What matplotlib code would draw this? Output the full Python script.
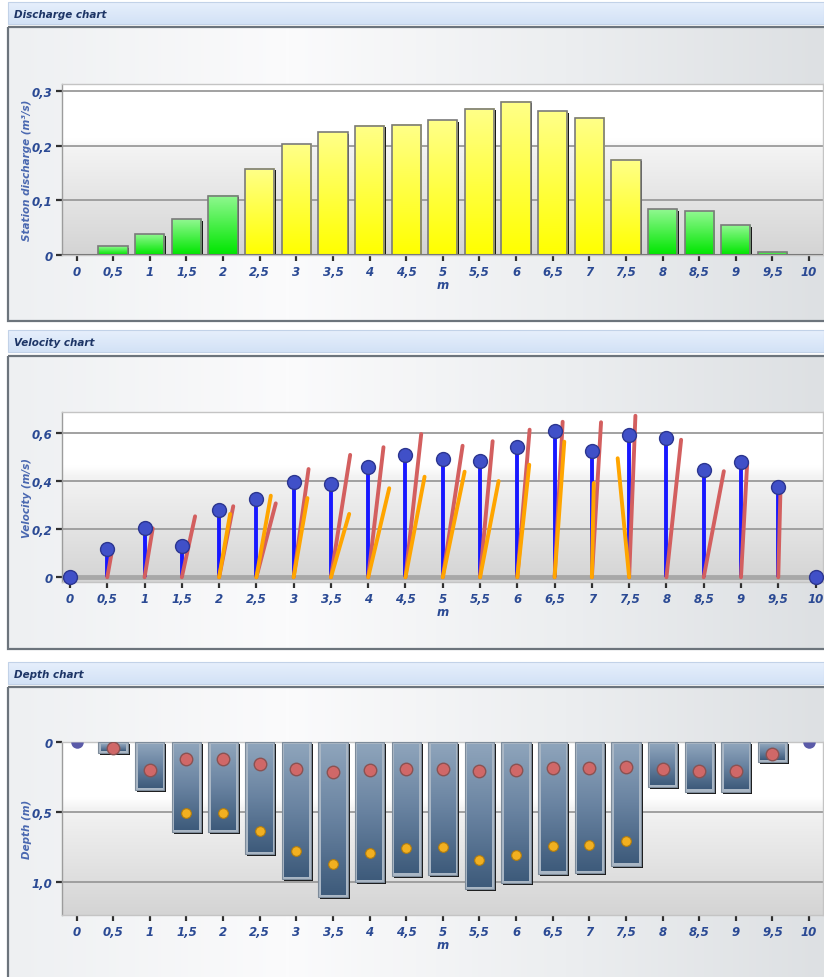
import numpy as np
import matplotlib
matplotlib.use('Agg')
import matplotlib.pyplot as plt
import matplotlib.transforms as mtransforms
from matplotlib.colors import LinearSegmentedColormap
from matplotlib.patches import Rectangle

nan = np.nan

# stations across the section (m)
stations = [0, 0.5, 1, 1.5, 2, 2.5, 3, 3.5, 4, 4.5, 5,
            5.5, 6, 6.5, 7, 7.5, 8, 8.5, 9, 9.5, 10]
station_labels = ['0', '0,5', '1', '1,5', '2', '2,5', '3', '3,5', '4', '4,5', '5',
                  '5,5', '6', '6,5', '7', '7,5', '8', '8,5', '9', '9,5', '10']

# discharge chart
discharge = [0, 0.016, 0.038, 0.065, 0.108, 0.158, 0.202, 0.224, 0.236, 0.238, 0.246,
             0.267, 0.280, 0.263, 0.251, 0.174, 0.084, 0.080, 0.054, 0.005, 0]
discharge_class = ['g', 'g', 'g', 'g', 'g', 'y', 'y', 'y', 'y', 'y', 'y',
                   'y', 'y', 'y', 'y', 'y', 'g', 'g', 'g', 'g', 'g']
discharge_ticks = [0, 0.1, 0.2, 0.3]
discharge_ticklabels = ['0', '0,1', '0,2', '0,3']

# velocity chart
mean_velocity = [0, 0.118, 0.204, 0.132, 0.280, 0.326, 0.396, 0.389, 0.458, 0.511, 0.493,
                 0.486, 0.544, 0.608, 0.528, 0.593, 0.579, 0.448, 0.482, 0.375, 0]
upper_end_x = [nan, 0.564, 1.11, 1.678, 2.19, 2.76, 3.20, 3.758, 4.205, 4.711, 5.266,
               5.669, 6.165, 6.608, 7.123, 7.584, 8.197, 8.77, 9.083, 9.53, nan]
upper_velocity = [nan, 0.111, 0.204, 0.254, 0.296, 0.308, 0.451, 0.510, 0.542, 0.597, 0.548,
                  0.567, 0.615, 0.648, 0.646, 0.673, 0.573, 0.442, 0.475, 0.371, nan]
lower_end_x = [nan, nan, nan, nan, 2.148, 2.694, 3.185, 3.745, 4.282, 4.756, 5.293,
               5.749, 6.16, 6.63, 7.025, 7.346, nan, nan, nan, nan, nan]
lower_velocity = [nan, nan, nan, nan, 0.264, 0.340, 0.330, 0.264, 0.371, 0.419, 0.440,
                  0.401, 0.469, 0.565, 0.393, 0.496, nan, nan, nan, nan, nan]
velocity_ticks = [0, 0.2, 0.4, 0.6]
velocity_ticklabels = ['0', '0,2', '0,4', '0,6']

# depth chart
depth = [0, 0.079, 0.343, 0.643, 0.643, 0.800, 0.980, 1.105, 1.000, 0.953, 0.948,
         1.048, 1.005, 0.938, 0.933, 0.881, 0.319, 0.353, 0.353, 0.143, 0]
upper_point = [nan, 0.043, 0.198, 0.119, 0.119, 0.155, 0.188, 0.214, 0.200, 0.188, 0.188,
               0.207, 0.200, 0.181, 0.181, 0.174, 0.190, 0.207, 0.207, 0.081, nan]
lower_point = [nan, nan, nan, 0.507, 0.507, 0.636, 0.776, 0.867, 0.788, 0.755, 0.748,
               0.843, 0.803, 0.741, 0.736, 0.705, nan, nan, nan, nan, nan]
depth_ticks = [0, 0.5, 1.0]
depth_ticklabels = ['0', '0,5', '1,0']

W, H = 824, 978
label_color = '#2b4a94'
ylabel_color = '#4a68b0'
tick_font = dict(fontsize=8.5, fontweight='bold', fontstyle='italic', color=label_color)

fig = plt.figure(figsize=(W / 100, H / 100), dpi=100)
fig.patch.set_facecolor('white')

# background layer in pixel coordinates
bg = fig.add_axes([0, 0, 1, 1])
bg.set_xlim(0, W)
bg.set_ylim(H, 0)
bg.axis('off')

panel_cmap = LinearSegmentedColormap.from_list('panel', ['#eef0f2', '#fbfbfc', '#eceef0', '#dcdfe2'])
bar_cmap = LinearSegmentedColormap.from_list('bar', ['#e6effc', '#d3e2f6'])

panels = [(3, 25, 28, 322, 'Discharge chart'),
          (331, 353, 357, 650, 'Velocity chart'),
          (663, 685, 688, 990, 'Depth chart')]
grad = np.linspace(0, 1, 256).reshape(1, -1)
for t0, t1, f0, f1, title in panels:
    bg.imshow(np.linspace(0, 1, 32).reshape(-1, 1), extent=(8, W, t1, t0),
              cmap=bar_cmap, aspect='auto', zorder=1)
    bg.add_patch(Rectangle((8, t0), W - 8, t1 - t0, fill=False, ec='#c2d2e8', lw=0.8, zorder=2))
    bg.text(14, (t0 + t1) / 2 + 0.5, title, fontsize=7.5, fontweight='bold', fontstyle='italic',
            color='#1d3566', va='center', ha='left', zorder=3)
    bg.imshow(grad, extent=(8, W + 20, f1, f0), cmap=panel_cmap, aspect='auto', zorder=1)
    bg.add_patch(Rectangle((8, f0), W + 20, f1 - f0, fill=False, ec='#6c747c', lw=1.6, zorder=2))
bg.set_xlim(0, W)
bg.set_ylim(H, 0)

plot_cmap = LinearSegmentedColormap.from_list('plot', [(0, '#d4d4d4'), (0.62, '#f3f3f3'),
                                                       (0.68, '#ffffff'), (1, '#ffffff')])


def make_axes(top, bottom):
    ax = fig.add_axes([62 / W, 1 - bottom / H, (823 - 62) / W, (bottom - top) / H])
    ax.set_facecolor('none')
    ax.imshow(np.linspace(0, 1, 128).reshape(-1, 1), extent=(0, 1, 0, 1), origin='lower',
              transform=ax.transAxes, cmap=plot_cmap, aspect='auto', zorder=0)
    for s in ax.spines.values():
        s.set_color('#c4c4c4')
        s.set_linewidth(1)
    ax.spines['left'].set_color('#9c9c9c')
    ax.tick_params(axis='both', direction='out', length=4, width=1.6, color='#303030', pad=3)
    ax.set_xticks(stations)
    ax.set_xticklabels(station_labels, **tick_font)
    ax.set_xlabel('m', labelpad=0, **tick_font)
    return ax


# ---- Discharge chart
ax1 = make_axes(85, 256)
green_cmap = LinearSegmentedColormap.from_list('green', ['#00e600', '#90f890'])
yellow_cmap = LinearSegmentedColormap.from_list('yellow', ['#ffff00', '#ffff88'])
bw = 0.4
shadow = mtransforms.offset_copy(ax1.transData, fig=fig, x=1.5, y=-1.5, units='dots')
for x, q, c in zip(stations, discharge, discharge_class):
    ax1.bar(x, q, bw, color='#1a1a1a', transform=shadow, zorder=2)
    if q > 0:
        ax1.imshow(np.linspace(0, 1, 64).reshape(-1, 1), extent=(x - bw / 2, x + bw / 2, 0, q),
                   origin='lower', cmap=green_cmap if c == 'g' else yellow_cmap,
                   aspect='auto', zorder=3)
    ax1.bar(x, q, bw, fill=False, edgecolor='#7a7a7a', linewidth=1.2, zorder=4)
for yv in discharge_ticks[1:]:
    ax1.axhline(yv, color='#9a9a9a', lw=1.3, zorder=1)
ax1.axhline(0, color='#7a7a7a', lw=1.5, zorder=5)
ax1.set_xlim(-0.198, 10.19)
ax1.set_ylim(0, 0.3125)
ax1.set_yticks(discharge_ticks)
ax1.set_yticklabels(discharge_ticklabels, **tick_font)
ax1.set_ylabel('Station discharge (m\u00b3/s)', fontsize=7.5, fontweight='bold', fontstyle='italic',
               color=ylabel_color)
ax1.yaxis.set_label_coords(-0.04, 0.5)

# ---- Velocity chart
ax2 = make_axes(412.7, 583.3)
for yv in velocity_ticks[1:]:
    ax2.axhline(yv, color='#9a9a9a', lw=1.3, zorder=1)
ax2.axhline(0, color='#a8a8a8', lw=3.5, zorder=1)
for x, v in zip(stations, mean_velocity):
    if v > 0:
        ax2.plot([x, x], [0, v], color='#1818ff', lw=2.8, zorder=3, solid_capstyle='butt')
for x, ex, v in zip(stations, upper_end_x, upper_velocity):
    if not np.isnan(v):
        ax2.plot([x, ex], [0, v], color='#d35f5f', lw=2.8, zorder=4, solid_capstyle='round')
for x, ex, v in zip(stations, lower_end_x, lower_velocity):
    if not np.isnan(v):
        ax2.plot([x, ex], [0, v], color='#ffa500', lw=2.8, zorder=5, solid_capstyle='round')
ax2.plot(stations, mean_velocity, 'o', ms=10, mfc='#4050c8', mec='#2c3690', mew=1,
         zorder=6, clip_on=False)
ax2.set_xlim(-0.107, 10.10)
ax2.set_ylim(-0.021, 0.69)
ax2.set_yticks(velocity_ticks)
ax2.set_yticklabels(velocity_ticklabels, **tick_font)
ax2.set_ylabel('Velocity (m/s)', fontsize=7.5, fontweight='bold', fontstyle='italic',
               color=ylabel_color)
ax2.yaxis.set_label_coords(-0.04, 0.5)

# ---- Depth chart
ax3 = make_axes(743.3, 916)
steel_cmap = LinearSegmentedColormap.from_list('steel', ['#3e5b7b', '#6882a0', '#8ea4bb'])
for yv in depth_ticks[1:]:
    ax3.axhline(yv, color='#9a9a9a', lw=1.3, zorder=1)
shadow3 = mtransforms.offset_copy(ax3.transData, fig=fig, x=2, y=-2, units='dots')
for x, d in zip(stations, depth):
    if d <= 0:
        continue
    ax3.bar(x, d, bw, color='#1a1a1a', transform=shadow3, zorder=2)
    ax3.bar(x, d, bw, color='#aab7c5', edgecolor='#7d8b9a', linewidth=0.8, zorder=3)
    ax3.imshow(np.linspace(0, 1, 64).reshape(-1, 1),
               extent=(x - bw / 2 + 0.035, x + bw / 2 - 0.035, d - 0.016, 0.016),
               origin='lower', cmap=steel_cmap, aspect='auto', zorder=4)
ax3.plot(stations, upper_point, 'o', ms=9, mfc='#d06868', mec='#8a5252', mew=1, zorder=6)
ax3.plot(stations, lower_point, 'o', ms=7, mfc='#f2b020', mec='#b07c10', mew=0.8, zorder=6)
# edge stations: dot sits on the water surface, only the lower half shows
edge_x = [x for x, d in zip(stations, depth) if d == 0]
ax3.plot(edge_x, [0] * len(edge_x), 'o', ms=9, fillstyle='bottom', mfc='#5a5aa8',
         mfcalt='none', mec='none', zorder=6)
ax3.set_xlim(-0.198, 10.19)
ax3.set_ylim(1.234, 0)
ax3.set_yticks(depth_ticks)
ax3.set_yticklabels(depth_ticklabels, **tick_font)
ax3.set_ylabel('Depth (m)', fontsize=7.5, fontweight='bold', fontstyle='italic',
               color=ylabel_color)
ax3.yaxis.set_label_coords(-0.04, 0.5)

fig.savefig('out.png', dpi=100)
